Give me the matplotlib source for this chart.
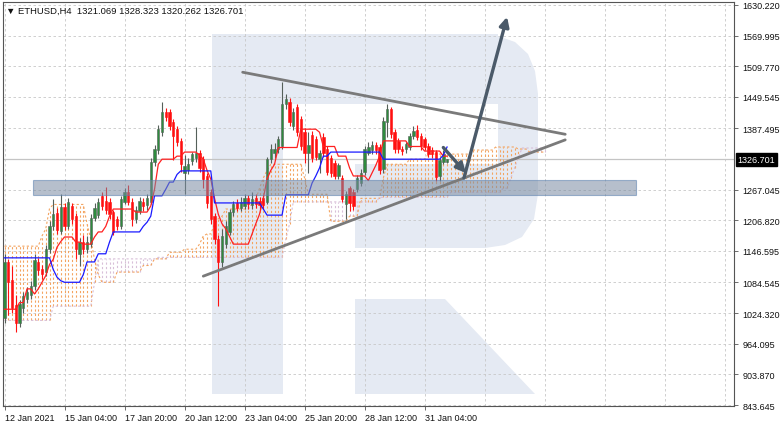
"""ETHUSD H4 — Ichimoku + triangle pattern (MT4 style)"""
import numpy as np
import matplotlib
matplotlib.use('Agg')
import matplotlib.pyplot as plt
from matplotlib.patches import Polygon, Rectangle
import matplotlib.transforms as mtransforms

plt.rcParams.update({
    'font.family': ['Liberation Sans', 'DejaVu Sans'],
    'font.size': 6.5,
})

# candles (O, H, L, C), one per H4 bar
opens = [1015, 1125, 1090, 1040, 1005, 1035, 1052, 1060, 1078, 1125,
         1112, 1105, 1150, 1196, 1222, 1186, 1233, 1195, 1235, 1215,
         1140, 1165, 1150, 1160, 1212, 1218, 1255, 1245, 1243, 1223,
         1210, 1196, 1243, 1262, 1243, 1209, 1225, 1242, 1236, 1243,
         1321, 1345, 1380, 1420, 1420, 1400, 1386, 1362, 1300, 1305,
         1323, 1330, 1340, 1327, 1294, 1262, 1215, 1170, 1125, 1160,
         1184, 1223, 1240, 1232, 1235, 1250, 1236, 1250, 1245, 1250,
         1243, 1327, 1340, 1347, 1353, 1435, 1440, 1392, 1430, 1406,
         1380, 1340, 1375, 1366, 1327, 1370, 1347, 1330, 1320, 1294,
         1290, 1239, 1270, 1262, 1268, 1280, 1302, 1340, 1345, 1355,
         1350, 1308, 1400, 1425, 1380, 1362, 1347, 1347, 1350, 1372,
         1385, 1372, 1366, 1352, 1345, 1341, 1294, 1322, 1321.069]
highs = [1140, 1130, 1117, 1060, 1050, 1065, 1075, 1088, 1140, 1132,
         1118, 1158, 1205, 1249, 1232, 1258, 1240, 1250, 1240, 1222,
         1172, 1178, 1175, 1220, 1240, 1250, 1262, 1272, 1250, 1228,
         1215, 1255, 1270, 1276, 1250, 1235, 1252, 1250, 1258, 1330,
         1355, 1395, 1440, 1428, 1426, 1406, 1392, 1368, 1335, 1330,
         1342, 1390, 1346, 1333, 1300, 1268, 1222, 1178, 1190, 1205,
         1230, 1245, 1248, 1252, 1258, 1256, 1262, 1258, 1252, 1256,
         1332, 1356, 1358, 1372, 1479, 1456, 1448, 1428, 1436, 1412,
         1388, 1380, 1382, 1372, 1346, 1378, 1352, 1335, 1326, 1320,
         1296, 1265, 1275, 1268, 1296, 1308, 1352, 1360, 1362, 1360,
         1356, 1410, 1435, 1430, 1386, 1368, 1352, 1360, 1378, 1392,
         1394, 1378, 1370, 1358, 1350, 1346, 1330, 1345, 1328.323]
lows = [1005, 1020, 1025, 988, 998, 1025, 1045, 1052, 1070, 1100,
        1091, 1098, 1142, 1188, 1180, 1180, 1188, 1190, 1200, 1130,
        1117, 1140, 1142, 1155, 1205, 1212, 1228, 1220, 1210, 1178,
        1188, 1190, 1238, 1236, 1196, 1202, 1220, 1226, 1228, 1238,
        1313, 1338, 1372, 1402, 1385, 1325, 1352, 1302, 1258, 1298,
        1315, 1322, 1302, 1270, 1232, 1200, 1160, 1038, 1115, 1152,
        1178, 1215, 1225, 1226, 1230, 1230, 1230, 1232, 1228, 1230,
        1238, 1320, 1330, 1340, 1348, 1425, 1392, 1385, 1372, 1345,
        1320, 1300, 1322, 1325, 1300, 1332, 1295, 1292, 1288, 1288,
        1242, 1209, 1225, 1228, 1262, 1275, 1296, 1335, 1338, 1338,
        1298, 1300, 1370, 1368, 1340, 1340, 1335, 1340, 1345, 1366,
        1365, 1345, 1345, 1332, 1330, 1285, 1285, 1318, 1320.262]
closes = [1125, 1085, 1035, 1005, 1042, 1058, 1065, 1078, 1128, 1110,
          1102, 1150, 1196, 1220, 1188, 1233, 1195, 1243, 1209, 1150,
          1164, 1150, 1165, 1212, 1232, 1243, 1235, 1228, 1219, 1184,
          1196, 1249, 1262, 1243, 1209, 1228, 1245, 1235, 1250, 1321,
          1347, 1386, 1420, 1410, 1392, 1372, 1361, 1318, 1313, 1318,
          1337, 1340, 1310, 1288, 1240, 1209, 1170, 1125, 1176, 1196,
          1223, 1239, 1232, 1243, 1250, 1238, 1248, 1238, 1236, 1236,
          1327, 1347, 1348, 1366, 1435, 1445, 1400, 1420, 1380, 1353,
          1340, 1355, 1330, 1332, 1340, 1340, 1302, 1300, 1294, 1315,
          1249, 1258, 1240, 1235, 1290, 1300, 1347, 1350, 1355, 1345,
          1305, 1402, 1425, 1376, 1347, 1347, 1343, 1356, 1372, 1382,
          1370, 1352, 1350, 1338, 1338, 1292, 1325, 1337, 1326.701]

# Ichimoku lines as (value, number of bars)
tenkan_runs = [(1032, 4), (1045, 2), (1072, 2), (1062, 1), (1072, 1), (1085, 1),
               (1098, 1), (1120, 1), (1130, 1), (1154, 1), (1165, 1), (1174, 3),
               (1164, 2), (1160, 3), (1174, 1), (1184, 2), (1195, 1), (1215, 1),
               (1229, 6), (1223, 4), (1235, 1), (1268, 1), (1317, 1), (1327, 4),
               (1333, 2), (1341, 4), (1335, 1), (1327, 1), (1305, 1), (1288, 1),
               (1250, 1), (1219, 1), (1200, 1), (1190, 1), (1175, 1), (1160, 5),
               (1180, 1), (1200, 1), (1219, 1), (1250, 1), (1288, 1), (1305, 1),
               (1317, 1), (1350, 6), (1386, 5), (1380, 1), (1352, 4), (1333, 3),
               (1310, 1), (1294, 4), (1285, 1), (1300, 1), (1315, 1), (1333, 1),
               (1363, 7), (1352, 4), (1343, 5), (1333, 2)]
kijun_runs = [(1133, 13), (1110, 1), (1095, 1), (1088, 1), (1085, 5), (1100, 1),
              (1125, 3), (1141, 3), (1164, 1), (1184, 8), (1195, 1), (1203, 1),
              (1215, 1), (1255, 3), (1268, 1), (1282, 2), (1297, 1), (1304, 9),
              (1241, 13), (1229, 1), (1217, 5), (1257, 7), (1280, 1), (1294, 1),
              (1310, 1), (1333, 2), (1341, 14), (1327, 16), (1335, 1), (1351, 1)]
span_a_runs = [(1156, 10), (1176, 1), (1190, 1), (1230, 1), (1238, 9), (1200, 1),
               (1170, 1), (1130, 1), (1100, 1), (1085, 4), (1105, 7), (1118, 3),
               (1131, 4), (1144, 4), (1150, 4), (1160, 1), (1176, 1), (1180, 2),
               (1200, 1), (1210, 1), (1215, 1), (1229, 7), (1240, 1), (1248, 1),
               (1270, 1), (1290, 1), (1305, 1), (1317, 9), (1290, 1), (1258, 6),
               (1205, 5), (1215, 3), (1250, 6), (1290, 1), (1317, 6), (1327, 5),
               (1337, 12), (1345, 6), (1351, 6), (1347, 3), (1341, 5)]
span_b_runs = [(1010, 13), (1038, 11), (1085, 1), (1131, 16), (1134, 34), (1170, 1),
               (1200, 1), (1243, 23), (1252, 19), (1262, 14), (1270, 2), (1290, 1),
               (1310, 1), (1330, 1), (1349, 7)]

def unroll(runs):
    out = []
    for v, n in runs:
        out += [v] * n
    return np.array(out, dtype=float)

tenkan = unroll(tenkan_runs)
kijun = unroll(kijun_runs)
span_a = unroll(span_a_runs)
span_b = unroll(span_b_runs)

price_ticks = [1630.220, 1569.995, 1509.770, 1449.545, 1387.495, 1267.045, 1206.820,
               1146.595, 1084.545, 1024.320, 964.095, 903.870, 843.645]
date_labels = ['12 Jan 2021', '15 Jan 04:00', '17 Jan 20:00', '20 Jan 12:00',
               '23 Jan 04:00', '25 Jan 20:00', '28 Jan 12:00', '31 Jan 04:00']
last_price = 1326.701

# drawings: (bar, price) endpoints
upper_line = [(63.5, 1498), (149.5, 1376)]
lower_line = [(53.0, 1097), (149.5, 1365)]
big_arrow = [(122.5, 1290), (134.0, 1607)]
small_arrow = [(117.0, 1350), (123.0, 1300)]
zone = (7.7, 168.5, 1256, 1286)   # x0, x1, low, high

W, H = 782, 427
fig = plt.figure(figsize=(W / 100, H / 100), dpi=100)
ax = fig.add_axes([3 / W, 20 / H, 731 / W, 404 / H])
ax.set_xlim(-0.4, 194.5)
ax.set_ylim(841.7, 1636.1)

# watermark "R" (pixel coords of the picture)
def px(pts):
    return [(x / W, 1 - y / H) for x, y in pts]

wm = '#e5eaf3'
wm_shapes = [
    [(212, 35), (283, 35), (283, 395), (212, 395)],
    [(212, 35), (498, 35), (498, 105), (212, 105)],
    [(470, 35), (495, 36), (515, 43), (528, 55), (535, 72), (538, 95), (538, 195),
     (534, 220), (522, 238), (505, 246), (485, 249), (355, 249), (355, 165),
     (498, 165), (498, 105), (470, 105)],
    [(355, 300), (445, 300), (535, 395), (355, 395)],
]
for shp in wm_shapes:
    ax.add_patch(Polygon(px(shp), closed=True, transform=fig.transFigure,
                         facecolor=wm, edgecolor='none', zorder=0.5))

# grid
for p in price_ticks:
    ax.axhline(p, color='#c8c8c8', lw=0.6, ls=(0, (3, 3)), zorder=1)
for b in range(0, 195, 16):
    ax.axvline(b, color='#c8c8c8', lw=0.6, ls=(0, (3, 3)), zorder=1)
ax.axhline(last_price, color='#c4c4c4', lw=0.9, zorder=1)

# cloud hatch
xc = np.arange(len(span_a))
lo = np.minimum(span_a, span_b)
hi = np.maximum(span_a, span_b)
col = np.where(span_a >= span_b, '#f4a460', '#d8bfd8')
ax.vlines(xc, lo, hi, colors=col, lw=0.8, linestyles=(0, (2, 2)), zorder=2)
ax.plot(xc, span_a, color='#f4a460', lw=0.8, ls=(0, (2, 2)), zorder=2)
ax.plot(xc, span_b, color='#d8bfd8', lw=0.8, ls=(0, (2, 2)), zorder=2)

# candles
xb = np.arange(len(closes))
for i in xb:
    o, h, l, c = opens[i], highs[i], lows[i], closes[i]
    up = c >= o
    body = '#2e8b3e' if up else '#ff1010'
    wick = '#55605a' if up else '#ff1010'
    ax.vlines(i, l, h, color=wick, lw=0.8, zorder=3)
    ax.add_patch(Rectangle((i - 0.32, min(o, c)), 0.64, max(abs(c - o), 1.5),
                           facecolor=body, edgecolor=wick, lw=0.4, zorder=3.5))

ax.plot(np.arange(len(tenkan)), tenkan, color='#ff2020', lw=0.9, zorder=4)
ax.plot(np.arange(len(kijun)), kijun, color='#1a1aff', lw=0.9, zorder=4)

# support zone
x0, x1, z0, z1 = zone
ax.add_patch(Rectangle((x0, z0), x1 - x0, z1 - z0, facecolor='#7a8ca2',
                       edgecolor='#5a7fae', lw=0.8, alpha=0.55, zorder=6))

# triangle + arrows
for seg in (upper_line, lower_line):
    ax.plot([seg[0][0], seg[1][0]], [seg[0][1], seg[1][1]],
            color='#7a7a7a', lw=2.0, solid_capstyle='round', zorder=7)
for arr in (big_arrow, small_arrow):
    ax.annotate('', xy=arr[1], xytext=arr[0],
                arrowprops=dict(arrowstyle='-|>', color='#4b5a69', lw=2.4,
                                mutation_scale=14, shrinkA=0, shrinkB=0),
                zorder=8)

# axes styling
for s in ax.spines.values():
    s.set_color('#555555')
    s.set_linewidth(0.8)
ax.yaxis.tick_right()
ax.set_yticks(price_ticks)
ax.set_yticklabels([f'{p:.3f}' for p in price_ticks])
ax.set_xticks(range(0, 113, 16))
ax.set_xticklabels(date_labels, ha='left')
ax.tick_params(axis='both', length=3, width=0.6, color='#555555', pad=2,
               labelcolor='#111111', labelsize=6.5)
ax.tick_params(axis='y', pad=3)

ax.text(1.005, last_price, f'{last_price:.3f}', color='white', fontsize=6.5,
        va='center', ha='left',
        transform=mtransforms.blended_transform_factory(ax.transAxes, ax.transData),
        bbox=dict(boxstyle='square,pad=0.2', facecolor='black', edgecolor='black'),
        zorder=10, clip_on=False)

ax.text(0.004, 0.99, '\u25BC ETHUSD,H4  1321.069 1328.323 1320.262 1326.701',
        transform=ax.transAxes, fontsize=6.8, va='top', ha='left', color='#111111',
        zorder=10)

fig.savefig('out.png', dpi=100)
print('Saved: out.png')
